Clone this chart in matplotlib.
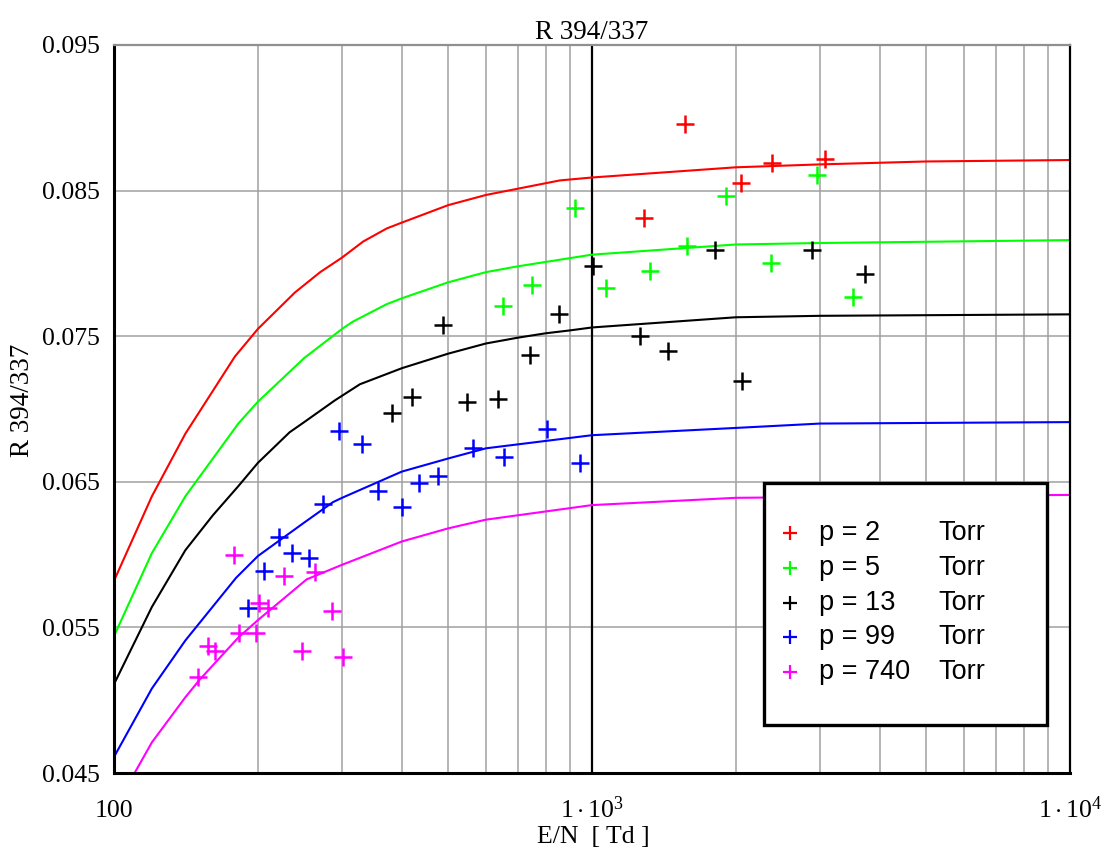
import numpy as np
import matplotlib
matplotlib.use("Agg")
import matplotlib.pyplot as plt
from matplotlib.ticker import NullFormatter
from matplotlib.patches import Rectangle

plt.rcParams['mathtext.fontset'] = 'custom'
plt.rcParams['mathtext.rm'] = 'Liberation Serif'
plt.rcParams['mathtext.it'] = 'Liberation Serif:italic'

serif = 'Liberation Serif'
sans = 'Liberation Sans'

# model curves, E/N [Td] vs ratio
fit_x_2 = [100, 120, 141, 179, 200, 239, 270, 300, 332, 372, 400, 500, 600, 857, 1000, 2000, 3000,
           5000, 10000]
fit_y_2 = [0.0582, 0.0640, 0.0683, 0.0736, 0.0755, 0.0780, 0.0794, 0.0804, 0.0815, 0.0824, 0.0828,
           0.0840, 0.0847, 0.0857, 0.0859, 0.0866, 0.0868, 0.0870, 0.0871]

fit_x_5 = [100, 120, 141, 182, 200, 250, 300, 316, 372, 400, 500, 600, 700, 800, 1000, 2000, 3000,
           10000]
fit_y_5 = [0.0544, 0.0601, 0.0640, 0.0690, 0.0705, 0.0735, 0.0755, 0.0760, 0.0772, 0.0776, 0.0787,
           0.0794, 0.0798, 0.0801, 0.0806, 0.0813, 0.0814, 0.0816]

fit_x_13 = [100, 120, 141, 161, 182, 200, 233, 250, 290, 327, 400, 500, 600, 700, 800, 900, 1000,
            2000, 3000, 10000]
fit_y_13 = [0.0511, 0.0564, 0.0603, 0.0627, 0.0647, 0.0663, 0.0684, 0.0691, 0.0706, 0.0717,
            0.0728, 0.0738, 0.0745, 0.0749, 0.0752, 0.0754, 0.0756, 0.0763, 0.0764, 0.0765]

fit_x_99 = [100, 120, 141, 180, 200, 250, 287, 300, 400, 500, 600, 1000, 2000, 3000, 10000]
fit_y_99 = [0.0461, 0.0508, 0.0541, 0.0584, 0.0599, 0.0622, 0.0636, 0.0639, 0.0657, 0.0666,
            0.0673, 0.0682, 0.0687, 0.0690, 0.0691]

fit_x_740 = [107, 110, 120, 141, 151, 182, 200, 253, 300, 400, 500, 600, 1000, 2000, 10000]
fit_y_740 = [0.0445, 0.0449, 0.0471, 0.0502, 0.0514, 0.0543, 0.0555, 0.0583, 0.0593,
             0.0609, 0.0618, 0.0624, 0.0634, 0.0639, 0.0641]

# measured points
meas_x_2 = [1285, 1565, 2050, 2380, 3070]
meas_y_2 = [0.0831, 0.0896, 0.0855, 0.0869, 0.0872]

meas_x_5 = [651, 749, 921, 1070, 1322, 1580, 1907, 2369, 2956, 3516]
meas_y_5 = [0.0771, 0.0785, 0.0838, 0.0783, 0.0795, 0.0812, 0.0846, 0.0800, 0.0861, 0.0777]

meas_x_13 = [381, 420, 488, 548, 636, 742, 853, 1005, 1260, 1442, 1808, 2060, 2886, 3725]
meas_y_13 = [0.0697, 0.0708, 0.0758, 0.0705, 0.0707, 0.0737, 0.0765, 0.0798, 0.0750, 0.0740,
             0.0809, 0.0719, 0.0809, 0.0793]

meas_x_99 = [191, 206, 221, 236, 256, 274, 296, 330, 357, 400, 435, 476, 564, 654, 805, 944]
meas_y_99 = [0.0563, 0.0589, 0.0612, 0.0601, 0.0598, 0.0635, 0.0685, 0.0676, 0.0644, 0.0633,
             0.0649, 0.0654, 0.0673, 0.0667, 0.0686, 0.0663]

meas_x_740 = [150, 157, 163, 178, 183, 198, 201, 210, 227, 247, 263, 286, 301]
meas_y_740 = [0.0516, 0.0537, 0.0534, 0.0600, 0.0546, 0.0546, 0.0567, 0.0563, 0.0585, 0.0534,
              0.0588, 0.0561, 0.0530]

pressures = ['2', '5', '13', '99', '740']
colors = ['#ff0000', '#00ff00', '#000000', '#0000ff', '#ff00ff']

fits = [(fit_x_2, fit_y_2), (fit_x_5, fit_y_5), (fit_x_13, fit_y_13),
        (fit_x_99, fit_y_99), (fit_x_740, fit_y_740)]
meas = [(meas_x_2, meas_y_2), (meas_x_5, meas_y_5), (meas_x_13, meas_y_13),
        (meas_x_99, meas_y_99), (meas_x_740, meas_y_740)]

fig = plt.figure(figsize=(11.02, 8.48), dpi=100)
ax = fig.add_axes([114 / 1102, 75 / 848, 956 / 1102, 728 / 848])
ax.set_xscale('log')
ax.set_xlim(100, 10000)
ax.set_ylim(0.045, 0.095)
ax.set_axisbelow(True)

ax.grid(True, which='both', axis='x', color='#a0a0a0', lw=1.1)
ax.grid(True, which='major', axis='y', color='#a0a0a0', lw=1.1)
ax.axvline(1000, color='black', lw=1.6, zorder=1.8)

for (fx, fy), c in zip(fits, colors):
    ax.plot(fx, fy, color=c, lw=1.5, zorder=2)
for (mx, my), c in zip(meas, colors):
    ax.plot(mx, my, '+', color=c, ms=13, mew=1.8, ls='none', zorder=3)

ax.set_yticks([0.045, 0.055, 0.065, 0.075, 0.085, 0.095])
ax.set_yticklabels(['0.045', '0.055', '0.065', '0.075', '0.085', '0.095'],
                   fontfamily=serif, fontsize=18.5)
ax.set_xticks([100, 1000, 10000])
ax.set_xticklabels(['100', r'$1\cdot10^{3}$', r'$1\cdot10^{4}$'], fontfamily=serif, fontsize=18.5)
ax.xaxis.set_minor_formatter(NullFormatter())
ax.tick_params(which='both', length=0)
ax.tick_params(axis='x', pad=32)
ax.tick_params(axis='y', pad=10)
for lab in ax.get_xticklabels():
    lab.set_verticalalignment('baseline')

for side in ['left', 'bottom']:
    ax.spines[side].set_linewidth(2.2)
ax.spines['right'].set_linewidth(1.6)
ax.spines['top'].set_color('#909090')
ax.spines['top'].set_linewidth(1.6)

ax.set_title('R 394/337', fontfamily=serif, fontsize=19.5, pad=4)
fig.text(23 / 1102, 0.528, 'R 394/337', rotation=90, ha='center', va='center',
         fontfamily=serif, fontsize=19.5)
fig.text(593 / 1102, 5 / 848, 'E/N  [ Td ]', ha='center', va='baseline',
         fontfamily=serif, fontsize=18.5)

# legend box drawn by hand so the "Torr" column lines up
ax.add_patch(Rectangle((0.680, 0.066), 0.296, 0.332, transform=ax.transAxes,
                       facecolor='white', edgecolor='black', lw=2.4, zorder=5))
rows = [0.3297, 0.2816, 0.2335, 0.1868, 0.1387]
for p, c, ry in zip(pressures, colors, rows):
    ax.plot([0.7071], [ry], '+', color=c, ms=10, mew=1.6, transform=ax.transAxes, zorder=6)
    ax.text(0.7375, ry, 'p = ' + p, transform=ax.transAxes, va='center', ha='left',
            fontfamily=sans, fontsize=19.5, zorder=6)
    ax.text(0.8619, ry, 'Torr', transform=ax.transAxes, va='center', ha='left',
            fontfamily=sans, fontsize=19.5, zorder=6)

fig.savefig('out.png', dpi=100)
